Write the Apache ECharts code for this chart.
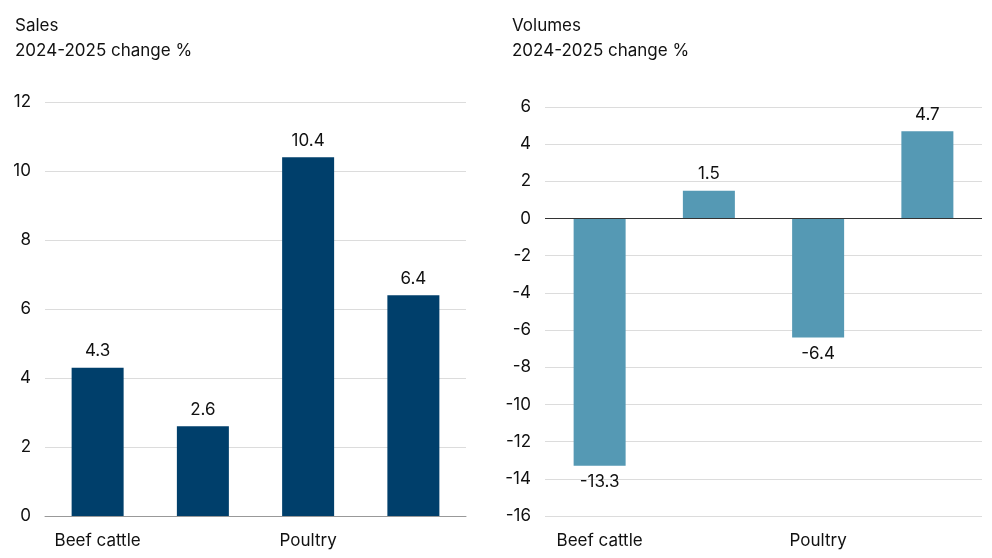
<!DOCTYPE html>
<html><head><meta charset="utf-8">
<script src="https://cdn.jsdelivr.net/npm/echarts@6/dist/echarts.min.js"></script>
<style>html,body{margin:0;background:#fff}#c{width:992px;height:558px}</style>
</head><body><div id="c"></div>
<script>
const categories = ["Beef cattle","Hogs","Poultry","Rendering"];
const salesValues = [4.3, 2.6, 10.4, 6.4];
const volumeValues = [-13.3, 1.5, -6.4, 4.7];
const font = "Inter, 'Noto Sans', sans-serif";
const txt = '#111';
function mkData(vals){
  return vals.map(v => ({value:v, label:{position: v<0?'bottom':'top'}}));
}
const chart = echarts.init(document.getElementById('c'));
const yAxisBase = {type:'value', axisLine:{show:false}, axisTick:{show:false},
  splitLine:{lineStyle:{color:'#dcdcdc'}}, axisLabel:{color:txt,fontSize:17,fontFamily:font,margin:14}};
const xAxisBase = {type:'category', data:categories, axisTick:{show:false},
  axisLine:{lineStyle:{color:'#999'}}, axisLabel:{color:txt,fontSize:17,fontFamily:font,margin:16}};
chart.setOption({
  animation:false,
  title:[
    {text:'Sales\n2024-2025 change %', left:10, top:8, textStyle:{fontSize:17,fontWeight:'normal',color:txt,fontFamily:font,lineHeight:25}},
    {text:'Volumes\n2024-2025 change %', left:507, top:8, textStyle:{fontSize:17,fontWeight:'normal',color:txt,fontFamily:font,lineHeight:25}}
  ],
  grid:[
    {left:45, right:526, top:102, bottom:42},
    {left:545, right:10, top:107, bottom:42}
  ],
  xAxis:[
    Object.assign({gridIndex:0}, xAxisBase),
    Object.assign({gridIndex:1, axisLine:{show:false}}, xAxisBase, {axisLine:{show:false}})
  ],
  yAxis:[
    Object.assign({gridIndex:0, min:0, max:12, interval:2}, yAxisBase),
    Object.assign({gridIndex:1, min:-16, max:6, interval:2}, yAxisBase)
  ],
  series:[
    {type:'bar', xAxisIndex:0, yAxisIndex:0, data:mkData(salesValues), barWidth:52,
     itemStyle:{color:'#003f6b'}, label:{show:true,color:txt,fontSize:17,fontFamily:font,distance:8}},
    {type:'bar', xAxisIndex:1, yAxisIndex:1, data:mkData(volumeValues), barWidth:52,
     itemStyle:{color:'#5599b4'}, label:{show:true,color:txt,fontSize:17,fontFamily:font,distance:8},
     markLine:{silent:true, symbol:'none', label:{show:false}, lineStyle:{color:'#333',type:'solid',width:1}, data:[{yAxis:0}]}}
  ]
});
</script></body></html>
